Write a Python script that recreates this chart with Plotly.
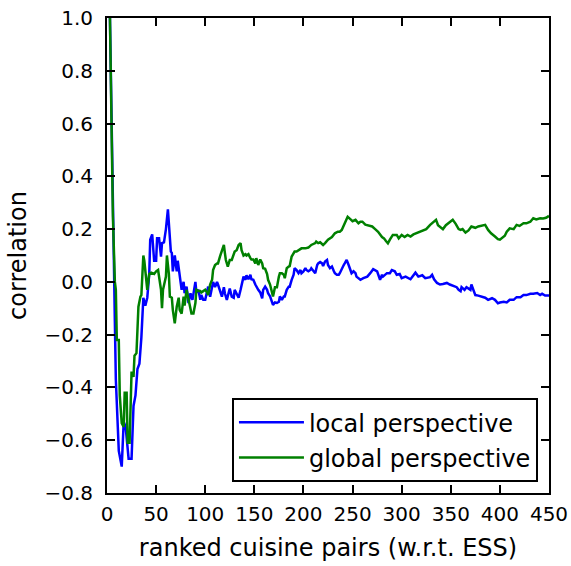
import plotly.graph_objects as go

# rank of cuisine pair (sorted by ESS) and running correlation, local perspective
local_rank = [3, 5, 6, 7, 8, 9, 11, 12, 14, 15, 17, 19, 20, 22, 25, 27, 29, 31, 33, 35,
              37, 39, 41, 43, 44, 46, 48, 50, 51, 53, 55, 56, 58, 60, 62, 63, 65, 66, 67, 69,
              71, 72, 74, 76, 78, 79, 81, 83, 85, 87, 90, 91, 93, 95, 96, 98, 100, 102, 103, 105,
              107, 108, 110, 112, 113, 115, 117, 119, 120, 122, 124, 125, 127, 129, 130, 132, 134, 136, 137, 139,
              141, 142, 144, 146, 147, 149, 151, 152, 154, 156, 158, 159, 161, 163, 164, 166, 168, 169, 171, 173,
              175, 176, 178, 180, 181, 183, 185, 186, 188, 190, 191, 193, 195, 197, 198, 200, 202, 203, 205, 207,
              208, 210, 212, 214, 215, 217, 219, 220, 222, 224, 225, 227, 229, 231, 232, 234, 236, 237, 239, 241,
              242, 244, 246, 248, 249, 251, 253, 254, 256, 258, 261, 265, 268, 271, 275, 276, 278, 280, 281, 285,
              288, 290, 293, 295, 298, 300, 304, 309, 311, 314, 317, 321, 324, 327, 329, 331, 333, 336, 339, 342,
              346, 349, 353, 356, 358, 360, 361, 364, 366, 370, 371, 373, 375, 378, 382, 385, 388, 392, 395, 398,
              400, 404, 407, 410, 414, 417, 421, 424, 427, 431, 434, 438, 441, 443, 446, 450]
local_corr = [1.0, 0.45, 0.20, 0.08, -0.15, -0.37, -0.55, -0.64, -0.68, -0.70, -0.53, -0.55, -0.59, -0.67, -0.67, -0.47, -0.43, -0.33, -0.31, -0.21,
              -0.06, -0.09, -0.06, 0.03, 0.16, 0.18, 0.08, 0.08, 0.165, 0.165, 0.096, 0.147, 0.15, 0.20, 0.275, 0.21, 0.115, 0.11, 0.04, 0.10,
              0.04, 0.08, 0.03, -0.03, 0.0, -0.043, -0.018, -0.08, -0.043, -0.068, 0.0, -0.04, -0.03, -0.068, -0.05, -0.068, -0.068, -0.037, -0.018, -0.056,
              -0.01, 0.0, -0.02, 0.0, -0.01, -0.03, -0.056, -0.02, -0.043, -0.068, -0.03, -0.025, -0.056, -0.06, -0.03, -0.043, -0.06, -0.03, -0.01, 0.02,
              0.008, 0.025, 0.01, 0.027, 0.01, 0.008, -0.01, -0.018, -0.03, -0.04, -0.062, -0.03, -0.018, -0.03, -0.043, -0.055, -0.081, -0.087, -0.078, -0.08,
              -0.075, -0.055, -0.068, -0.055, -0.055, -0.03, -0.018, -0.018, 0.008, 0.027, 0.052, 0.045, 0.033, 0.045, 0.033, 0.04, 0.052, 0.045, 0.04, 0.045,
              0.052, 0.04, 0.033, 0.064, 0.07, 0.075, 0.07, 0.06, 0.077, 0.083, 0.064, 0.052, 0.058, 0.04, 0.033, 0.027, 0.027, 0.033, 0.052, 0.064,
              0.07, 0.083, 0.064, 0.04, 0.033, 0.04, 0.033, 0.02, 0.014, 0.008, 0.014, 0.02, 0.033, 0.048, 0.04, 0.027, 0.008, 0.027, 0.02, 0.033,
              0.033, 0.045, 0.04, 0.027, 0.03, 0.014, 0.02, 0.01, 0.02, 0.035, 0.02, 0.025, 0.014, 0.018, 0.018, 0.027, 0.01, -0.004, -0.01, -0.008,
              -0.004, -0.01, -0.016, -0.02, -0.03, -0.035, -0.02, -0.03, -0.02, -0.03, -0.01, -0.03, -0.05, -0.052, -0.055, -0.06, -0.068, -0.062, -0.068, -0.081,
              -0.078, -0.075, -0.078, -0.068, -0.068, -0.058, -0.058, -0.05, -0.05, -0.045, -0.045, -0.042, -0.05, -0.045, -0.052, -0.052]

# running correlation, global perspective
global_rank = [3, 6, 8, 9, 10, 12, 13, 15, 17, 18, 20, 21, 23, 25, 27, 28, 30, 32, 34, 35,
               37, 38, 41, 43, 45, 48, 50, 52, 55, 56, 57, 58, 60, 61, 63, 64, 66, 67, 69, 71,
               73, 74, 76, 78, 79, 81, 83, 85, 86, 88, 90, 91, 93, 95, 96, 98, 100, 102, 103, 105,
               107, 108, 110, 112, 113, 115, 117, 119, 120, 121, 123, 125, 127, 129, 130, 132, 134, 136, 137, 139,
               141, 142, 144, 146, 147, 149, 151, 152, 154, 156, 158, 159, 161, 163, 164, 166, 168, 169, 171, 173,
               175, 176, 178, 180, 181, 183, 185, 186, 188, 190, 191, 193, 195, 198, 202, 205, 208, 212, 213, 215,
               217, 220, 222, 225, 229, 232, 235, 237, 239, 242, 245, 248, 250, 253, 256, 258, 260, 263, 266, 270,
               273, 276, 280, 282, 284, 286, 288, 291, 295, 297, 300, 303, 306, 309, 312, 315, 319, 322, 325, 329,
               332, 335, 337, 339, 342, 345, 349, 352, 355, 358, 360, 362, 365, 368, 371, 375, 378, 381, 385, 388,
               391, 395, 398, 400, 402, 405, 407, 410, 414, 417, 420, 424, 427, 431, 434, 437, 441, 444, 447, 450]
global_corr = [1.0, 0.25, 0.0, -0.03, -0.22, -0.22, -0.43, -0.535, -0.55, -0.42, -0.42, -0.61, -0.61, -0.34, -0.36, -0.28, -0.27, -0.094, -0.056, -0.05,
               0.10, 0.08, -0.03, 0.03, 0.035, 0.03, 0.04, 0.045, -0.03, -0.10, -0.03, -0.015, 0.02, 0.10, 0.03, -0.056, -0.06, -0.106, -0.157, -0.094,
               -0.06, -0.106, -0.12, -0.056, -0.09, -0.03, -0.068, -0.106, -0.12, -0.12, -0.08, -0.03, -0.035, -0.035, -0.04, -0.035, -0.03, -0.04, -0.05, -0.01,
               0.008, 0.045, 0.064, 0.07, 0.07, 0.096, 0.12, 0.14, 0.11, 0.083, 0.058, 0.083, 0.083, 0.11, 0.115, 0.12, 0.14, 0.147, 0.12, 0.10,
               0.105, 0.10, 0.105, 0.09, 0.085, 0.085, 0.07, 0.09, 0.064, 0.085, 0.07, 0.052, 0.05, 0.03, 0.008, -0.01, -0.045, -0.055, -0.02, -0.02,
               0.02, 0.033, 0.033, 0.027, 0.014, 0.052, 0.058, 0.06, 0.096, 0.108, 0.115, 0.115, 0.12, 0.127, 0.127, 0.13, 0.14, 0.147, 0.153, 0.147,
               0.15, 0.14, 0.147, 0.16, 0.17, 0.184, 0.19, 0.19, 0.197, 0.222, 0.247, 0.237, 0.23, 0.235, 0.222, 0.228, 0.228, 0.217, 0.215, 0.21,
               0.20, 0.19, 0.17, 0.165, 0.155, 0.146, 0.16, 0.178, 0.178, 0.165, 0.178, 0.17, 0.178, 0.172, 0.18, 0.185, 0.19, 0.197, 0.20, 0.216,
               0.225, 0.235, 0.215, 0.21, 0.20, 0.215, 0.228, 0.235, 0.22, 0.20, 0.197, 0.20, 0.187, 0.195, 0.21, 0.205, 0.21, 0.212, 0.216, 0.197,
               0.184, 0.172, 0.162, 0.16, 0.165, 0.175, 0.19, 0.203, 0.20, 0.216, 0.212, 0.222, 0.222, 0.228, 0.241, 0.237, 0.241, 0.24, 0.243, 0.25]

x_ticks = [0, 50, 100, 150, 200, 250, 300, 350, 400, 450]
y_ticks = [-0.8, -0.6, -0.4, -0.2, 0.0, 0.2, 0.4, 0.6, 0.8, 1.0]

FONT = "DejaVu Sans"

fig = go.Figure()
fig.add_trace(go.Scatter(x=local_rank, y=local_corr, mode="lines", name="local perspective",
                         legendgroup="local", line=dict(color="#0000ff", width=2.5)))
fig.add_trace(go.Scatter(x=global_rank, y=global_corr, mode="lines", name="global perspective",
                         legendgroup="global", line=dict(color="#008000", width=2.5)))

axis_common = dict(
    showline=True, linecolor="black", linewidth=2, mirror="allticks",
    ticks="inside", ticklen=8, tickwidth=1.5, tickcolor="black",
    showgrid=False, zeroline=False, automargin=False,
    tickfont=dict(family=FONT, size=20, color="black"),
)

fig.update_xaxes(range=[0, 450], tickvals=x_ticks, ticklabelstandoff=2,
                 title=dict(text="ranked cuisine pairs (w.r.t. ESS)",
                            font=dict(family=FONT, size=24, color="black"), standoff=14),
                 **axis_common)
fig.update_yaxes(range=[-0.8, 1.0], tickvals=y_ticks, tickformat=".1f", ticklabelstandoff=8,
                 title=dict(text="correlation",
                            font=dict(family=FONT, size=24, color="black"), standoff=11),
                 **axis_common)

fig.update_layout(
    width=571, height=566,
    margin=dict(l=107, r=22, t=18, b=73),
    paper_bgcolor="white", plot_bgcolor="white",
    font=dict(family=FONT, color="black"),
    legend=dict(
        x=0.975, y=0.023, xanchor="right", yanchor="bottom",
        bgcolor="white", bordercolor="black", borderwidth=2,
        font=dict(family=FONT, size=24, color="black"),
        traceorder="grouped", tracegroupgap=1, itemwidth=65,
    ),
    showlegend=True,
)

fig.write_html("out.html")
